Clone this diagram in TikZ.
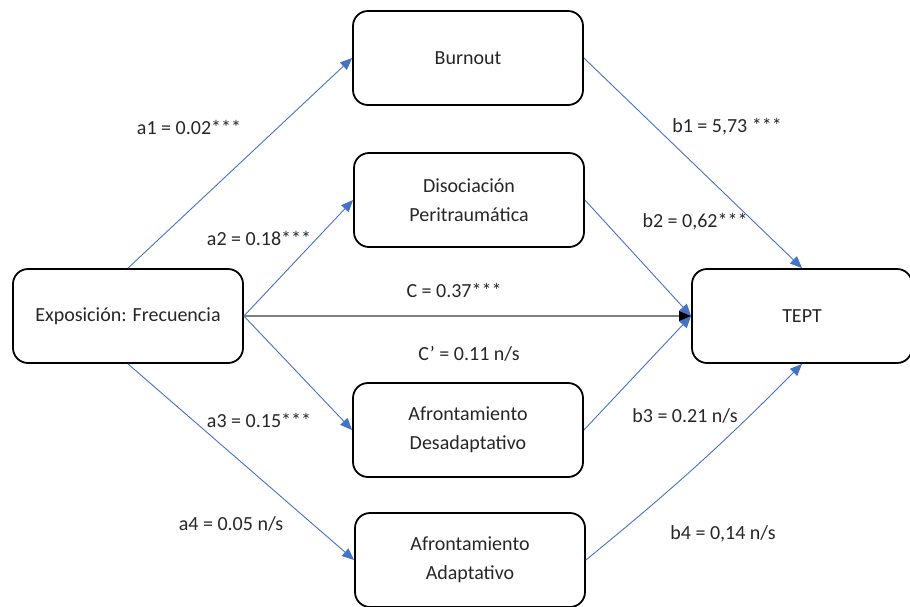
\documentclass[tikz,border=0pt]{standalone}
\usepackage{fontspec}
\setmainfont{Carlito}
\usetikzlibrary{arrows.meta}
\definecolor{azul}{RGB}{68,114,196}
\definecolor{texto}{RGB}{38,38,38}
\newcommand{\tx}{\fontsize{20}{29}\selectfont}

\begin{document}
\begin{tikzpicture}[x=1pt,y=-1pt,
  caja/.style={draw=black,line width=1.8pt,rounded corners=15pt,
    minimum width=230pt,minimum height=94pt,align=center,
    text=texto,font=\tx},
  flecha/.style={draw=azul,line width=0.9pt,
    -{Triangle[length=12pt,width=10pt]}},
  etiq/.style={text=texto,font=\tx}]
  \useasboundingbox (0,0) rectangle (910,606);
  % cajas
  \node[caja] (expo)  at (128,316) {Exposición: Frecuencia};
  \node[caja] (burn)  at (468, 58) {Burnout};
  \node[caja] (diso)  at (469,200) {Disociación\\Peritraumática};
  \node[caja] (desad) at (468,430) {Afrontamiento\\Desadaptativo};
  \node[caja] (adapt) at (470,560) {Afrontamiento\\Adaptativo};
  \node[caja,minimum width=220pt] (tept) at (802,316) {TEPT};
  % caminos a
  \draw[flecha] (expo.north) -- (burn.west);
  \draw[flecha] (expo.east)  -- (diso.west);
  \draw[flecha] (expo.east)  -- (desad.west);
  \draw[flecha] (expo.south) -- (adapt.west);
  % caminos b
  \draw[flecha] (burn.east)  -- (tept.north);
  \draw[flecha] (diso.east)  -- (tept.west);
  \draw[flecha] (desad.east) -- (tept.west);
  \draw[flecha] (adapt.east) to[bend right=3] (tept.south);
  % camino c
  \draw[draw=gray,line width=1.3pt,
    -{Triangle[length=12pt,width=10pt,color=black]}] (expo.east) -- (tept.west);
  % etiquetas
  \node[etiq] (la1) at (189,127) {a1 = 0.02***};
  \node[etiq] (la2) at (259,238) {a2 = 0.18***};
  \node[etiq] (la3) at (259,420) {a3 = 0.15***};
  \node[etiq] (la4) at (231,524) {a4 = 0.05 n/s};
  \node[etiq] (lc)  at (454,290) {C = 0.37***};
  \node[etiq] (lcp) at (469,354) {C’ = 0.11 n/s};
  \node[etiq] (lb1) at (727,127) {b1 = 5,73 ***};
  \node[etiq] (lb2) at (695,222) {b2 = 0,62***};
  \node[etiq] (lb3) at (685,416) {b3 = 0.21 n/s};
  \node[etiq] (lb4) at (723,534) {b4 = 0,14 n/s};
\end{tikzpicture}
\end{document}
